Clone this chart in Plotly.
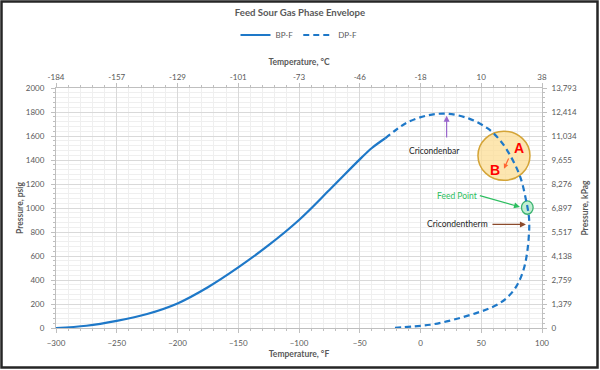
import plotly.graph_objects as go

# ---- data ----
bp_temp_f = [-300, -275, -250, -225, -200, -175, -150, -125, -100, -75, -50, -40, -29]
bp_psig = [0, 19, 60, 117, 205, 340, 505, 690, 900, 1150, 1405, 1500, 1581]

dp_temp_f = [-29, -20, -11, 5, 21.5, 40, 55, 65, 73.6, 82, 87.4, 89.3, 89.5, 88.8, 87.5,
             85.5, 82.5, 78.5, 73, 66, 57, 47, 35, 21.6, 8, -6, -22.4]
dp_psig = [1581, 1652, 1712, 1770, 1786, 1745, 1665, 1570, 1442, 1261, 1039, 920, 840, 720,
           610, 510, 420, 340, 270, 212, 165, 128, 91, 55, 27, 13, 0]

f_ticks = [-300, -250, -200, -150, -100, -50, 0, 50, 100]
c_labels = ["-184", "-157", "-129", "-101", "-73", "-46", "-18", "10", "38"]
psig_ticks = [0, 200, 400, 600, 800, 1000, 1200, 1400, 1600, 1800, 2000]
kpa_labels = ["0", "1,379", "2,759", "4,138", "5,517", "6,897", "8,276", "9,655",
              "11,034", "12,414", "13,793"]

BLUE = "#1E78C8"
GRAY = "#595959"
FONT = "Lato"

fig = go.Figure()
fig.add_trace(go.Scatter(x=bp_temp_f, y=bp_psig, name="BP-F", mode="lines",
                         line=dict(color=BLUE, width=2.2, shape="spline", smoothing=1.0),
                         hoverinfo="skip"))
fig.add_trace(go.Scatter(x=dp_temp_f, y=dp_psig, name="DP-F", mode="lines",
                         line=dict(color=BLUE, width=2.2, dash="6px,4px", shape="spline"),
                         hoverinfo="skip"))
# invisible trace to activate secondary axes
fig.add_trace(go.Scatter(x=bp_temp_f, y=bp_psig, xaxis="x2", yaxis="y2", mode="lines",
                         line=dict(width=0, color="rgba(0,0,0,0)"), showlegend=False,
                         hoverinfo="skip"))

tickfont = dict(family=FONT, size=8, color=GRAY)
titlefont = dict(family=FONT, size=8.5, color=GRAY, weight="bold")
grid = dict(showgrid=True, gridcolor="#D9D9D9", gridwidth=1, automargin=False,
            showline=True, linecolor="#BFBFBF", linewidth=1, zeroline=False,
            ticks="outside", ticklen=4, tickcolor="#BFBFBF", tickfont=tickfont)

fig.update_layout(
    width=600, height=370,
    margin=dict(l=56, r=58, t=88, b=42, autoexpand=False),
    paper_bgcolor="white", plot_bgcolor="white",
    title=dict(text="<b>Feed Sour Gas Phase Envelope</b>", x=0.5, xanchor="center",
               y=1 - 13 / 370, yanchor="middle",
               font=dict(family=FONT, size=9.6, color=GRAY)),
    legend=dict(orientation="h", x=0.5, xanchor="center", y=(328 - 35) / 240,
                yanchor="middle", font=dict(family=FONT, size=8, color=GRAY),
                itemwidth=30, bgcolor="rgba(0,0,0,0)"),
    xaxis=dict(range=[-300, 100], tickvals=f_ticks,
               title=dict(text="Temperature, °F", font=titlefont, standoff=4),
               minor=dict(dtick=10, showgrid=True, gridcolor="#EFEFEF", ticks="outside",
                          ticklen=2, tickcolor="#BFBFBF"),
               ticklabelstandoff=3, **grid),
    xaxis2=dict(range=[-300, 100], overlaying="x", side="top", tickvals=f_ticks,
                ticktext=c_labels, showgrid=False, showline=True, linecolor="#BFBFBF",
                zeroline=False, ticks="outside", ticklen=4, tickcolor="#BFBFBF",
                tickfont=tickfont, automargin=False,
                minor=dict(dtick=10, ticks="outside", ticklen=2, tickcolor="#BFBFBF"),
                title=dict(text="Temperature, °C", font=titlefont, standoff=4)),
    yaxis=dict(range=[0, 2000], tickvals=psig_ticks,
               title=dict(text="Pressure, psig", font=titlefont, standoff=0),
               minor=dict(dtick=40, showgrid=True, gridcolor="#EFEFEF", ticks="outside",
                          ticklen=2, tickcolor="#BFBFBF"),
               ticklabelstandoff=5, **grid),
    yaxis2=dict(range=[0, 2000], overlaying="y", side="right", tickvals=psig_ticks,
                ticktext=kpa_labels, showgrid=False, showline=True, linecolor="#BFBFBF",
                zeroline=False, ticks="outside", ticklen=4, tickcolor="#BFBFBF",
                tickfont=tickfont, ticklabelstandoff=3, automargin=False,
                minor=dict(dtick=40, ticks="outside", ticklen=2, tickcolor="#BFBFBF"),
                title=dict(text="Pressure, kPag", font=titlefont, standoff=6)),
)

# shapes
fig.add_shape(type="circle", xref="x", yref="y", x0=47.3, x1=90.1, y0=1231, y1=1640,
              fillcolor="rgba(252,222,150,0.75)", line=dict(color="#D4A437", width=1.5),
              layer="between")
fig.add_shape(type="circle", xref="x", yref="y", x0=83.1, x1=92.7, y0=948, y1=1059,
              fillcolor="rgba(180,235,200,0.8)", line=dict(color="#3CB371", width=1.3),
              layer="between")
# border around whole image
fig.add_shape(type="rect", xref="paper", yref="paper",
              x0=(1.5 - 56) / 486, x1=(597.5 - 56) / 486,
              y0=(328 - 367.5) / 240, y1=(328 - 1.5) / 240,
              line=dict(color="#262626", width=2.5), fillcolor="rgba(0,0,0,0)")

# annotations
lbl = dict(family=FONT, size=8.5, color="#262626")
fig.add_annotation(x=21.5, y=1768, ax=21.5, ay=1575, xref="x", yref="y", axref="x", ayref="y",
                   showarrow=True, arrowhead=2, arrowsize=1, arrowwidth=1.2,
                   arrowcolor="#9966CC", text="")
fig.add_annotation(x=11.9, y=1474, xref="x", yref="y", text="Cricondenbar", showarrow=False,
                   font=lbl)
fig.add_annotation(x=30, y=1098, xref="x", yref="y", text="Feed Point", showarrow=False,
                   font=dict(family=FONT, size=8.5, color="#2DBE60"))
fig.add_annotation(x=81.9, y=1009, ax=47.6, ay=1106, xref="x", yref="y", axref="x", ayref="y",
                   showarrow=True, arrowhead=2, arrowsize=1, arrowwidth=1.2,
                   arrowcolor="#2DBE60", text="")
fig.add_annotation(x=30.7, y=863, xref="x", yref="y", text="Cricondentherm", showarrow=False,
                   font=lbl)
fig.add_annotation(x=86.8, y=863, ax=58, ay=863, xref="x", yref="y", axref="x", ayref="y",
                   showarrow=True, arrowhead=2, arrowsize=1, arrowwidth=1.2,
                   arrowcolor="#8B4A2B", text="")
fig.add_annotation(x=81.3, y=1502, xref="x", yref="y", text="<b>A</b>", showarrow=False,
                   font=dict(family="Liberation Sans", size=14, color="#FF0000"))
fig.add_annotation(x=61.3, y=1314, xref="x", yref="y", text="<b>B</b>", showarrow=False,
                   font=dict(family="Liberation Sans", size=14, color="#FF0000"))
fig.add_annotation(x=68.7, y=1328, ax=73.1, ay=1424, xref="x", yref="y", axref="x", ayref="y",
                   showarrow=True, arrowhead=2, arrowsize=0.8, arrowwidth=1.2,
                   arrowcolor="#FF6633", text="")

fig.write_html("out.html", config={"displayModeBar": False},
               post_script="document.body.style.margin='0';document.body.style.padding='0';")
